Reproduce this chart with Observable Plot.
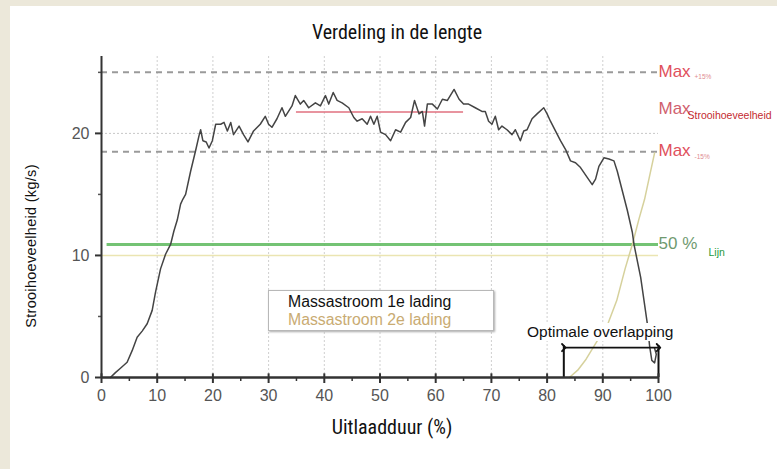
<!DOCTYPE html>
<html><head><meta charset="utf-8">
<script src="https://cdn.jsdelivr.net/npm/d3@7"></script>
<script src="https://cdn.jsdelivr.net/npm/@observablehq/plot@0.6"></script>
<style>
body{margin:0;background:#ece8da;width:777px;height:469px;overflow:hidden;position:relative;font-family:"Liberation Sans",Arial,sans-serif}
#panel{position:absolute;left:10px;top:6px;width:767px;height:463px;background:#fff}
#chart{position:absolute;left:0;top:0}
.lbl{position:absolute;white-space:nowrap;color:#111}
#title{left:397px;top:20px;transform:translateX(-50%);font-family:"Liberation Sans Narrow","Roboto Condensed","Liberation Sans",sans-serif;font-size:20px;font-weight:400}
#xlab{left:392px;top:415px;transform:translateX(-50%);font-family:"Liberation Sans Narrow","Roboto Condensed","Liberation Sans",sans-serif;font-size:20px;font-weight:400}
#ylab{left:31px;top:246px;transform:translate(-50%,-50%) rotate(-90deg);font-size:14.5px;letter-spacing:0.3px}
#legend{position:absolute;left:268px;top:290px;width:226px;height:41px;background:#fff;border:1px solid #b8b8b8;box-shadow:1px 1px 2px #aaa;font-size:15.8px;line-height:18px;padding-top:2px;box-sizing:border-box}
#legend div{padding-left:19px}
#overlap{left:526px;top:323px;font-size:15.5px;background:#fff;padding:0 1px}
</style></head>
<body>
<div id="panel"></div>
<div id="chart"></div>
<div class="lbl" id="title">Verdeling in de lengte</div>
<div class="lbl" id="xlab">Uitlaadduur (%)</div>
<div class="lbl" id="ylab">Strooihoeveelheid (kg/s)</div>
<div id="legend"><div id="lg1" style="color:#111"></div><div id="lg2" style="color:#c9ab72"></div></div>
<div class="lbl" id="overlap">Optimale overlapping</div>
<script>
// Data
const seriesNames = ["Massastroom 1e lading", "Massastroom 2e lading"];
const load1X = [1.6,2.5,3.5,4.6,5.5,6.4,7.3,8.2,9.1,9.7,10.6,11.5,12.4,13.0,13.6,14.2,14.6,15.1,16.0,16.9,17.5,17.8,18.2,18.8,19.3,19.9,20.5,21.4,22.0,22.6,23.2,23.7,24.7,25.5,26.3,27.3,28.5,29.4,30.0,30.6,31.5,32.4,33.0,34.2,34.8,35.7,36.3,37.2,38.4,39.3,40.2,40.8,41.6,42.3,43.2,44.4,45.3,45.9,46.8,47.7,48.3,48.9,49.5,50.1,51.0,51.9,52.8,53.7,54.6,55.5,56.2,57.0,57.6,58.0,58.5,59.4,60.3,61.2,62.1,63.3,64.2,65.0,65.9,67.1,68.3,68.9,69.5,70.1,70.7,71.3,71.9,72.8,73.7,74.3,75.2,75.8,76.4,77.3,78.2,79.4,80.0,80.6,81.5,82.4,83.3,84.2,85.1,86.0,87.2,88.1,88.7,89.3,90.2,91.1,92.0,92.6,93.5,94.4,95.3,95.6,96.8,98.0,98.4,98.8,99.3,99.6,99.3];
const load1Y = [0,0.4,0.8,1.25,2.2,3.3,3.8,4.4,5.5,7.0,8.9,10.1,10.9,12.0,12.9,14.2,14.6,15.0,16.9,18.6,19.8,20.3,19.4,19.3,18.8,19.4,20.75,20.75,20.9,20.2,20.9,19.9,20.6,19.9,19.3,20.2,20.75,21.4,20.75,20.5,21.2,22.1,21.4,22.25,23.1,22.4,22.7,22.1,22.5,22.25,23.1,22.4,23.35,22.7,22.5,22.1,21.3,21.0,21.2,20.75,21.4,20.75,21.4,20.1,19.9,19.4,20.3,20.1,20.9,21.3,22.7,21.6,21.8,20.6,22.4,22.4,22.0,22.8,22.7,23.6,22.8,22.4,22.4,22.1,21.8,21.8,21.0,20.75,21.4,20.3,20.6,20.3,19.9,20.3,19.4,20.2,20.3,21.2,21.6,22.1,21.6,21.0,20.2,19.4,18.7,17.75,17.6,17.2,16.4,15.8,16.25,17.3,18.0,17.9,17.75,16.9,15.3,13.7,11.9,10.9,8.2,4.4,2.6,1.4,1.2,1.9,2.4];
const load2X = [84.0,85.5,87.0,89.0,91.0,92.5,94.0,95.3,96.5,97.5,98.3,99.3];
const load2Y = [0,0.6,1.5,3.0,4.5,6.3,8.9,10.9,13.0,14.6,16.3,18.4];
const maxValue = 21.75;           // Max strooihoeveelheid
const maxRange = [35, 65];        // span of the max line
const limitValues = [25.0, 18.5]; // +15% / -15%
const limitSubs = ["+15%", "-15%"];
const halfValue = 10.9;           // 50 % lijn
const overlapRange = [83, 100];   // optimale overlapping
const overlapLevel = 2.45;
const xTicks = [0,10,20,30,40,50,60,70,80,90,100];
const xMinor = [5,15,25,35,45,55,65,75,85,95];
const yTicks = [0,10,20];
const yMinor = [5,15,25];
const gridX = [10,20,30,40,50,60,70,80,90];

document.getElementById("lg1").textContent = seriesNames[0];
document.getElementById("lg2").textContent = seriesNames[1];

const l1 = load1X.map((x,i)=>({x, y: load1Y[i]}));
const l2 = load2X.map((x,i)=>({x, y: load2Y[i]}));
const limits = limitValues.map((y,i)=>({y, sub: limitSubs[i]}));

const chart = Plot.plot({
  width: 777, height: 469,
  marginLeft: 101, marginRight: 119, marginTop: 56, marginBottom: 92,
  x: {domain: [0, 100]},
  y: {domain: [0, 26.3]},
  style: {background: "transparent", fontFamily: "Liberation Sans, Arial, sans-serif"},
  marks: [
    Plot.ruleX(gridX, {stroke: "#cfcfcf", strokeDasharray: "2,2"}),
    Plot.ruleY([20], {x1: 0, x2: 100, stroke: "#c8c8c8", strokeDasharray: "2,2"}),
    Plot.ruleY([10], {x1: 0, x2: 100, stroke: "#ebe5b2", strokeWidth: 1.5}),
    Plot.ruleY(limitValues, {x1: 0, x2: 100, stroke: "#9a9a9a", strokeWidth: 2, strokeDasharray: "6,5"}),
    Plot.ruleY([halfValue], {x1: 1, x2: 100, stroke: "#5cb85c", strokeWidth: 3, strokeOpacity: 0.85}),
    Plot.ruleY([maxValue], {x1: maxRange[0], x2: maxRange[1], stroke: "#e0707f", strokeWidth: 1.5}),
    Plot.line(l2, {x: "x", y: "y", stroke: "#d6d19c", strokeWidth: 1.5}),
    Plot.line(l1, {x: "x", y: "y", stroke: "#444", strokeWidth: 1.5}),
    Plot.ruleX(overlapRange, {y1: 0, y2: 2.6, stroke: "#111", strokeWidth: 2}),
    Plot.link([overlapRange], {x1: d => d[0], x2: d => d[1], y1: overlapLevel, y2: overlapLevel, stroke: "#111", strokeWidth: 1.8, markerStart: "arrow", markerEnd: "arrow"}),
    Plot.axisX(xTicks, {tickSize: 6, tickPadding: 6, fontSize: 16, fill: "#555", stroke: "#333", strokeWidth: 2, label: null}),
    Plot.axisX(xMinor, {tickSize: 4, text: null, stroke: "#333", strokeWidth: 1.5, label: null}),
    Plot.ruleX(xTicks, {y1: 0, y2: 0.3, stroke: "#333", strokeWidth: 2}),
    Plot.axisY(yTicks, {tickSize: 6, tickPadding: 6, fontSize: 16, fill: "#555", stroke: "#333", strokeWidth: 2, label: null}),
    Plot.axisY(yMinor, {tickSize: 3, text: null, stroke: "#555", strokeWidth: 1.5, label: null}),
    Plot.ruleX([0], {stroke: "#333", strokeWidth: 2}),
    Plot.ruleY([0], {stroke: "#333", strokeWidth: 2.5}),
    // Right-hand labels
    Plot.text(limits, {x: 100, y: "y", text: () => "Max", fill: "#e0505c", textAnchor: "start", fontSize: 17, dy: -1}),
    Plot.text(limits, {x: 100, y: "y", text: "sub", fill: "#e08a90", textAnchor: "start", fontSize: 6.5, dx: 36, dy: 5}),
    Plot.text([maxValue], {x: 100, y: d => d, text: () => "Max", fill: "#d0606e", textAnchor: "start", fontSize: 17, dy: -3}),
    Plot.text([maxValue], {x: 100, y: d => d, text: () => "Strooihoeveelheid", fill: "#c42a30", textAnchor: "start", fontSize: 10.5, dx: 29, dy: 4}),
    Plot.text([halfValue], {x: 100, y: d => d, text: () => "50 %", fill: "#6f9a6f", textAnchor: "start", fontSize: 17, dy: -1}),
    Plot.text([halfValue], {x: 100, y: d => d, text: () => "Lijn", fill: "#1f9a3c", textAnchor: "start", fontSize: 10.5, dx: 50, dy: 8})
  ]
});
document.getElementById("chart").appendChild(chart);
</script>
</body></html>
